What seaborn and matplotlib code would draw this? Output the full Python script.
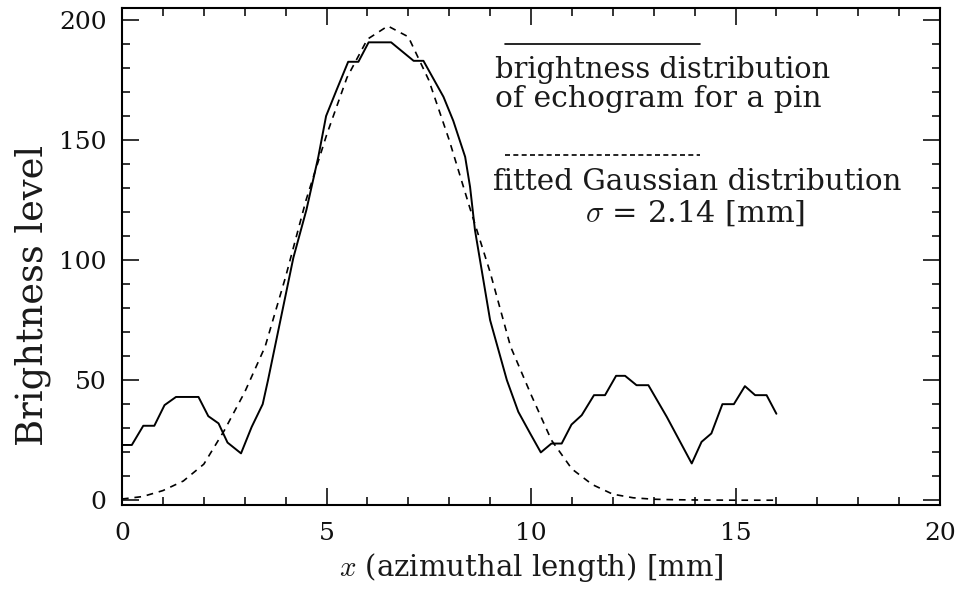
import matplotlib
matplotlib.use("Agg")
import matplotlib.pyplot as plt
import seaborn as sns
import pandas as pd
from matplotlib.ticker import MultipleLocator

# Measured brightness distribution (solid)
x_meas = [0.0, 0.24, 0.52, 0.79, 1.04, 1.32, 1.87, 2.11, 2.36, 2.58, 2.91, 3.17, 3.44,
          3.57, 4.19, 4.51, 4.80, 4.99, 5.25, 5.53, 5.78, 6.03, 6.58, 7.13, 7.37, 7.86,
          8.10, 8.39, 8.51, 8.63, 9.00, 9.41, 9.69, 9.98, 10.24, 10.50, 10.75, 10.99,
          11.24, 11.54, 11.81, 12.08, 12.30, 12.58, 12.87, 13.32, 13.93, 14.17, 14.41,
          14.68, 14.96, 15.23, 15.48, 15.76, 16.0]
y_meas = [23, 23, 31, 31, 39.6, 43, 43, 35, 32, 24, 19.5, 30.5, 40,
          50, 101, 121, 143, 160, 171, 182.6, 182.6, 190.7, 190.7, 183, 183, 168,
          158, 143, 130.5, 112.5, 75, 50, 36.8, 27.8, 19.9, 23.6, 23.6, 31.5,
          35.4, 43.75, 43.75, 51.8, 51.8, 47.9, 47.9, 34.7, 15.3, 24.3, 27.8,
          40, 40, 47.5, 43.75, 43.75, 36]

# Fitted Gaussian (dashed)
x_fit = [0.0, 0.5, 1.0, 1.5, 2.0, 2.5, 3.0, 3.5, 4.0, 4.5, 5.0, 5.5, 6.0, 6.5, 7.0,
         7.5, 8.0, 8.5, 9.0, 9.5, 10.0, 10.5, 11.0, 11.5, 12.0, 12.5, 13.0, 13.5,
         14.0, 14.5, 15.0, 15.5, 16.0]
y_fit = [0.5, 1.5, 4, 8, 15, 29, 45, 64, 93, 125, 152, 176, 192, 197.5, 193,
         175, 150, 122, 95, 64, 44, 25, 13, 6.5, 2.5, 1.0, 0.4, 0.2,
         0.1, 0.05, 0.0, 0.0, 0.0]

x_ticks = [0, 5, 10, 15, 20]
y_ticks = [0, 50, 100, 150, 200]

sns.set_theme(style="ticks")
plt.rcParams["font.family"] = ["DejaVu Serif"]
plt.rcParams["mathtext.fontset"] = "cm"

W, H = 968, 596
fig = plt.figure(figsize=(W / 100, H / 100), dpi=100)
ax = fig.add_axes([122 / W, 1 - 505 / H, 818 / W, 497 / H])

meas = pd.DataFrame({"x": x_meas, "y": y_meas})
fit = pd.DataFrame({"x": x_fit, "y": y_fit})
sns.lineplot(data=meas, x="x", y="y", ax=ax, color="black", linewidth=1.4,
             sort=False, estimator=None)
sns.lineplot(data=fit, x="x", y="y", ax=ax, color="black", linewidth=1.2,
             linestyle=(0, (4, 3.5)), sort=False, estimator=None)

ax.set_xlim(0, 20)
ax.set_ylim(-2, 205)
ax.set_xticks(x_ticks)
ax.set_yticks(y_ticks)
ax.set_xticklabels([str(v) for v in x_ticks])
ax.set_yticklabels([str(v) for v in y_ticks])
ax.xaxis.set_minor_locator(MultipleLocator(1))
ax.yaxis.set_minor_locator(MultipleLocator(10))
ax.tick_params(which="both", direction="in", top=True, right=True,
               labelsize=18, colors="#111111", width=1.2)
ax.tick_params(axis="x", which="major", length=12, pad=12)
ax.tick_params(axis="y", which="major", length=12, pad=11)
ax.tick_params(which="minor", length=6)
for s in ax.spines.values():
    s.set_linewidth(1.5)
    s.set_color("black")

TXT = "#1a1a1a"
xl = ax.set_xlabel(r"$x$ (azimuthal length) [mm]", fontsize=20, color=TXT)
ax.xaxis.set_label_coords(0.5, (505 - 568) / 497)
xl.set_va("center")
yl = ax.set_ylabel("Brightness level", fontsize=20, color=TXT)
ax.yaxis.set_label_coords((33 - 122) / 818, (505 - 295) / 497)
yl.set_va("center")

# Legend-like annotation
ax.plot([0.468, 0.707], [0.928, 0.928], transform=ax.transAxes, color="black", lw=1.2)
ax.plot([0.468, 0.707], [0.704, 0.704], transform=ax.transAxes, color="black", lw=1.2,
        linestyle=(0, (3, 2)))
t1 = ax.text(0.456, 0.876, "brightness distribution", transform=ax.transAxes,
             fontsize=20, va="center", ha="left", color=TXT)
t2 = ax.text(0.456, 0.817, "of echogram for a pin", transform=ax.transAxes,
             fontsize=20, va="center", ha="left", color=TXT)
t3 = ax.text(0.453, 0.650, "fitted Gaussian distribution", transform=ax.transAxes,
             fontsize=20, va="center", ha="left", color=TXT)
t4 = ax.text(0.700, 0.588, r"$\sigma$ = 2.14 [mm]", transform=ax.transAxes,
             fontsize=20, va="center", ha="center", color=TXT)

# fit text sizes to the measured pixel extents of the reference
fig.canvas.draw()
r = fig.canvas.get_renderer()
targets = [(t1, 335, "w"), (t2, 326, "w"), (t3, 408, "w"), (t4, 220, "w"),
           (xl, 385, "w"), (yl, 300, "h")]
for t, tgt, dim in targets:
    bb = t.get_window_extent(r)
    cur = bb.width if dim == "w" else bb.height
    t.set_fontsize(t.get_fontsize() * tgt / cur)

fig.savefig("out.png", dpi=100)
